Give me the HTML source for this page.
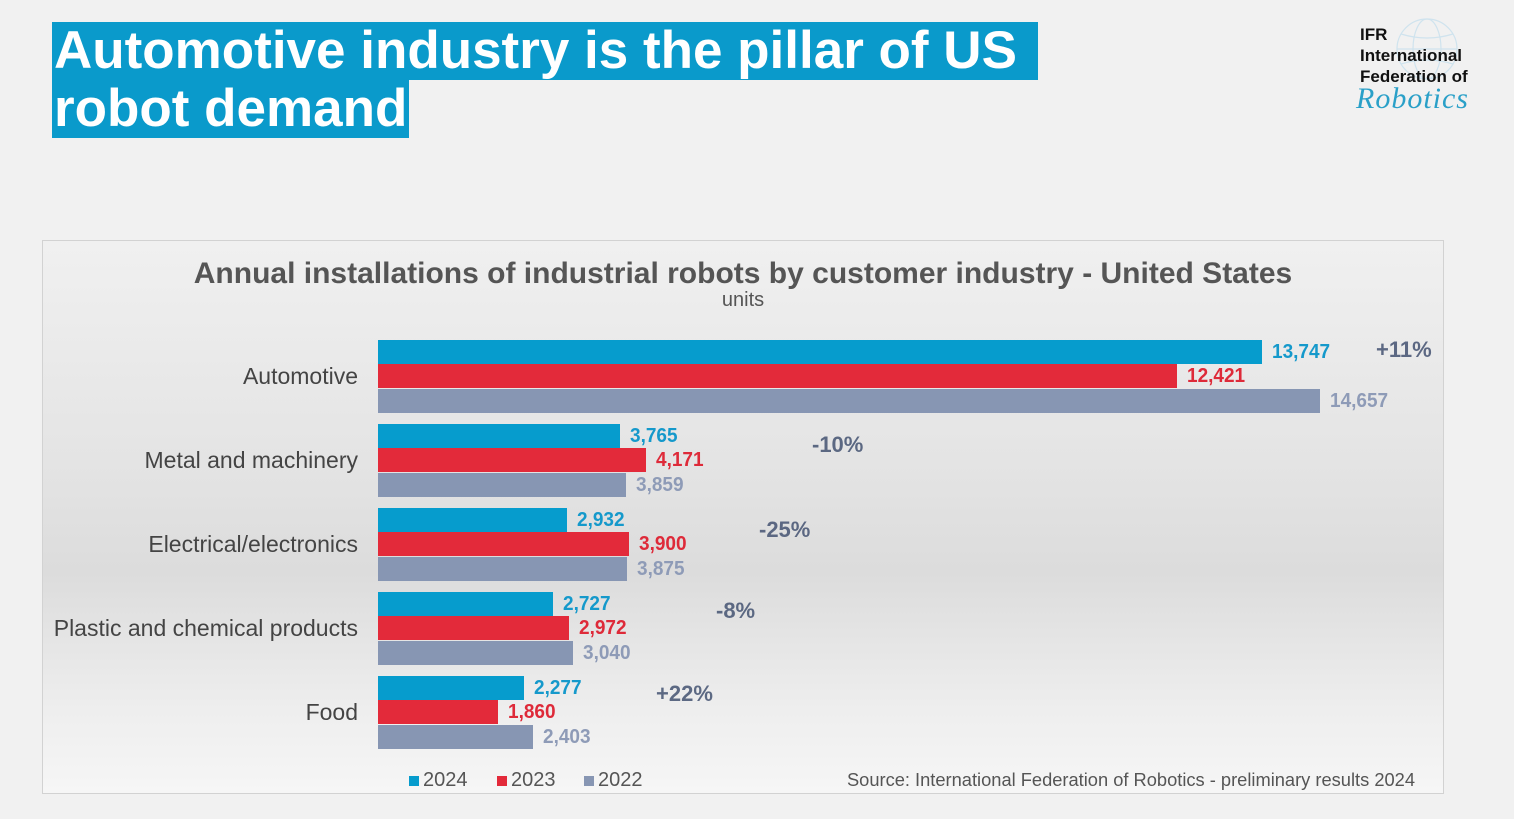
<!DOCTYPE html>
<html><head><meta charset="utf-8"><style>
*{margin:0;padding:0;box-sizing:border-box}
body{width:1514px;height:819px;background:#f1f1f1;font-family:"Liberation Sans",Arial,sans-serif;position:relative;overflow:hidden}
.a{position:absolute;white-space:nowrap}
.hd{background:#0a9acb;color:#fff;font-weight:bold;font-size:53px;line-height:58px;padding-left:2px}
.chart{left:42px;top:240px;width:1402px;height:554px;border:1.5px solid #d2d2d2;background:linear-gradient(#f0f0f0 0%,#e4e4e4 40%,#dcdcdc 60%,#eeeeee 85%,#f6f6f6 100%)}
.bar{position:absolute;left:378px;height:24px}
.c1{background:#069ccd}.c2{background:#e32a3a}.c3{background:#8796b3}
.v{position:absolute;font-weight:bold;font-size:20px;line-height:24px;transform:scaleX(.95);transform-origin:left}
.t1{color:#1599cb}.t2{color:#de2a39}.t3{color:#8e9bb7}
.cat{position:absolute;right:1156px;font-size:23px;color:#444;line-height:24px}
.p{position:absolute;font-size:22px;color:#4d5b78;font-weight:bold;opacity:.9}
.sq{display:inline-block;width:10px;height:10px;margin-right:4px}
</style></head><body>
<div class="a hd" style="left:52px;top:22px;width:986px">Automotive industry is the pillar of US</div>
<div class="a hd" style="left:52px;top:80px;width:357px">robot demand</div>

<svg class="a" style="left:1392px;top:14px" width="70" height="70" viewBox="0 0 70 70"><g fill="none" stroke="#cfe3ee" stroke-width="1.2"><circle cx="35" cy="35" r="30"/><ellipse cx="35" cy="35" rx="14" ry="30"/><line x1="5" y1="35" x2="65" y2="35"/><path d="M9 20 Q35 28 61 20 M9 50 Q35 42 61 50"/></g></svg>
<div class="a" style="left:1360px;top:24px;font-size:17px;font-weight:bold;line-height:21px;color:#111">IFR<br>International<br>Federation of</div>
<div class="a" style="left:1356px;top:82px;font-size:30px;font-style:italic;color:#2aa0c8;font-family:'Liberation Serif',serif;letter-spacing:1px">Robotics</div>

<div class="a chart"></div>
<div class="a" style="left:0;width:1486px;text-align:center;top:257px;font-size:30px;font-weight:bold;color:#555">Annual installations of industrial robots by customer industry - United States</div>
<div class="a" style="left:0;width:1486px;text-align:center;top:289px;font-size:20px;color:#555">units</div>

<div class="bar c1" style="top:340px;width:884px"></div>
<div class="bar c2" style="top:364px;width:799px"></div>
<div class="bar c3" style="top:389px;width:942px"></div>
<div class="v t1" style="left:1272px;top:340px">13,747</div>
<div class="v t2" style="left:1187px;top:364px">12,421</div>
<div class="v t3" style="left:1330px;top:389px">14,657</div>
<div class="cat" style="top:364px">Automotive</div>
<div class="p" style="left:1376px;top:337px">+11%</div>

<div class="bar c1" style="top:424px;width:242px"></div>
<div class="bar c2" style="top:448px;width:268px"></div>
<div class="bar c3" style="top:473px;width:248px"></div>
<div class="v t1" style="left:630px;top:424px">3,765</div>
<div class="v t2" style="left:656px;top:448px">4,171</div>
<div class="v t3" style="left:636px;top:473px">3,859</div>
<div class="cat" style="top:448px">Metal and machinery</div>
<div class="p" style="left:812px;top:432px">-10%</div>

<div class="bar c1" style="top:508px;width:189px"></div>
<div class="bar c2" style="top:532px;width:251px"></div>
<div class="bar c3" style="top:557px;width:249px"></div>
<div class="v t1" style="left:577px;top:508px">2,932</div>
<div class="v t2" style="left:639px;top:532px">3,900</div>
<div class="v t3" style="left:637px;top:557px">3,875</div>
<div class="cat" style="top:532px">Electrical/electronics</div>
<div class="p" style="left:759px;top:517px">-25%</div>

<div class="bar c1" style="top:592px;width:175px"></div>
<div class="bar c2" style="top:616px;width:191px"></div>
<div class="bar c3" style="top:641px;width:195px"></div>
<div class="v t1" style="left:563px;top:592px">2,727</div>
<div class="v t2" style="left:579px;top:616px">2,972</div>
<div class="v t3" style="left:583px;top:641px">3,040</div>
<div class="cat" style="top:616px">Plastic and chemical products</div>
<div class="p" style="left:716px;top:598px">-8%</div>

<div class="bar c1" style="top:676px;width:146px"></div>
<div class="bar c2" style="top:700px;width:120px"></div>
<div class="bar c3" style="top:725px;width:155px"></div>
<div class="v t1" style="left:534px;top:676px">2,277</div>
<div class="v t2" style="left:508px;top:700px">1,860</div>
<div class="v t3" style="left:543px;top:725px">2,403</div>
<div class="cat" style="top:700px">Food</div>
<div class="p" style="left:656px;top:681px">+22%</div>

<div class="a" style="left:409px;top:769px;font-size:20px;color:#555"><span class="sq" style="background:#069ccd"></span>2024</div>
<div class="a" style="left:497px;top:769px;font-size:20px;color:#555"><span class="sq" style="background:#e32a3a"></span>2023</div>
<div class="a" style="left:584px;top:769px;font-size:20px;color:#555"><span class="sq" style="background:#8796b3"></span>2022</div>
<div class="a" style="right:99px;top:769px;font-size:18.3px;color:#555">Source: International Federation of Robotics - preliminary results 2024</div>
</body></html>
